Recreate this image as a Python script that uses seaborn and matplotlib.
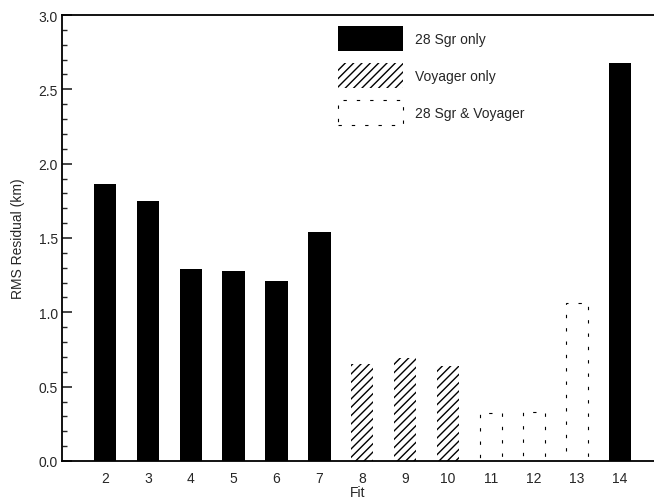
import matplotlib
matplotlib.use("Agg")
import matplotlib.pyplot as plt
import seaborn as sns
import pandas as pd
from matplotlib.patches import Patch
from matplotlib.ticker import MultipleLocator, FormatStrFormatter

# ---- data ----
fits = [2, 3, 4, 5, 6, 7, 8, 9, 10, 11, 12, 13, 14]
rms = [1.86, 1.75, 1.29, 1.28, 1.21, 1.54, 0.65, 0.69, 0.64, 0.32, 0.33, 1.06, 2.68]
groups = ["28 Sgr only"] * 6 + ["Voyager only"] * 3 + ["28 Sgr & Voyager"] * 3 + ["28 Sgr only"]
group_order = ["28 Sgr only", "Voyager only", "28 Sgr & Voyager"]

df = pd.DataFrame({"Fit": fits, "RMS": rms, "Group": groups})

sns.set_theme(style="ticks")
plt.rcParams["font.family"] = ["Liberation Sans", "DejaVu Sans"]
plt.rcParams["hatch.linewidth"] = 1.0

fig = plt.figure(figsize=(6.54, 5.02), dpi=100)
ax = fig.add_axes([62 / 654, 40 / 502, 1 - 62 / 654, 446 / 502])

palette = {"28 Sgr only": "black", "Voyager only": "white", "28 Sgr & Voyager": "white"}
sns.barplot(data=df, x="Fit", y="RMS", hue="Group", hue_order=group_order,
            palette=palette, dodge=False, native_scale=True, width=0.52,
            legend=False, ax=ax, saturation=1)

grp_of = dict(zip(fits, groups))
for p in ax.patches:
    xc = int(round(p.get_x() + p.get_width() / 2))
    g = grp_of.get(xc)
    if g == "28 Sgr only":
        p.set_facecolor("black"); p.set_edgecolor("black"); p.set_linewidth(0)
    elif g == "Voyager only":
        p.set_facecolor("white"); p.set_edgecolor("black"); p.set_hatch("////")
        p.set_linewidth(0)
    elif g == "28 Sgr & Voyager":
        p.set_facecolor("white"); p.set_edgecolor("black"); p.set_linewidth(0.8)
        p.set_linestyle((0, (3, 9)))

ax.set_xlim(1, 14.8)
ax.set_ylim(0, 3.0)
ax.set_xticks(fits)
ax.set_xticklabels([str(f) for f in fits])
ax.yaxis.set_major_locator(MultipleLocator(0.5))
ax.yaxis.set_minor_locator(MultipleLocator(0.1))
ax.yaxis.set_major_formatter(FormatStrFormatter("%.1f"))
ax.tick_params(axis="y", which="major", direction="in", length=7, width=1.2,
               labelsize=10, pad=3, right=False)
ax.tick_params(axis="y", which="minor", direction="in", length=3.5, width=1.0, right=False)
ax.tick_params(axis="x", which="both", length=0, labelsize=10, pad=7)

for s in ["left", "bottom", "top"]:
    ax.spines[s].set_visible(True)
    ax.spines[s].set_linewidth(1.3)
    ax.spines[s].set_color("black")
ax.spines["right"].set_visible(False)

ax.set_xlabel("Fit", fontsize=10, labelpad=0)
ax.set_ylabel("RMS Residual (km)", fontsize=10, labelpad=10)

handles = [
    Patch(facecolor="black", edgecolor="black", linewidth=0, label="28 Sgr only"),
    Patch(facecolor="white", edgecolor="black", hatch="////", linewidth=0, label="Voyager only"),
    Patch(facecolor="white", edgecolor="black", linewidth=0.8, linestyle=(0, (3, 9)),
          label="28 Sgr & Voyager"),
]
leg = ax.legend(handles=handles, loc="upper left",
                bbox_to_anchor=(338 / 654, 1 - 27 / 502), bbox_transform=fig.transFigure,
                frameon=False, fontsize=10, handlelength=4.7, handleheight=2.4,
                labelspacing=0.85, handletextpad=0.85, borderpad=0, borderaxespad=0)

fig.savefig("out.png", dpi=100)
